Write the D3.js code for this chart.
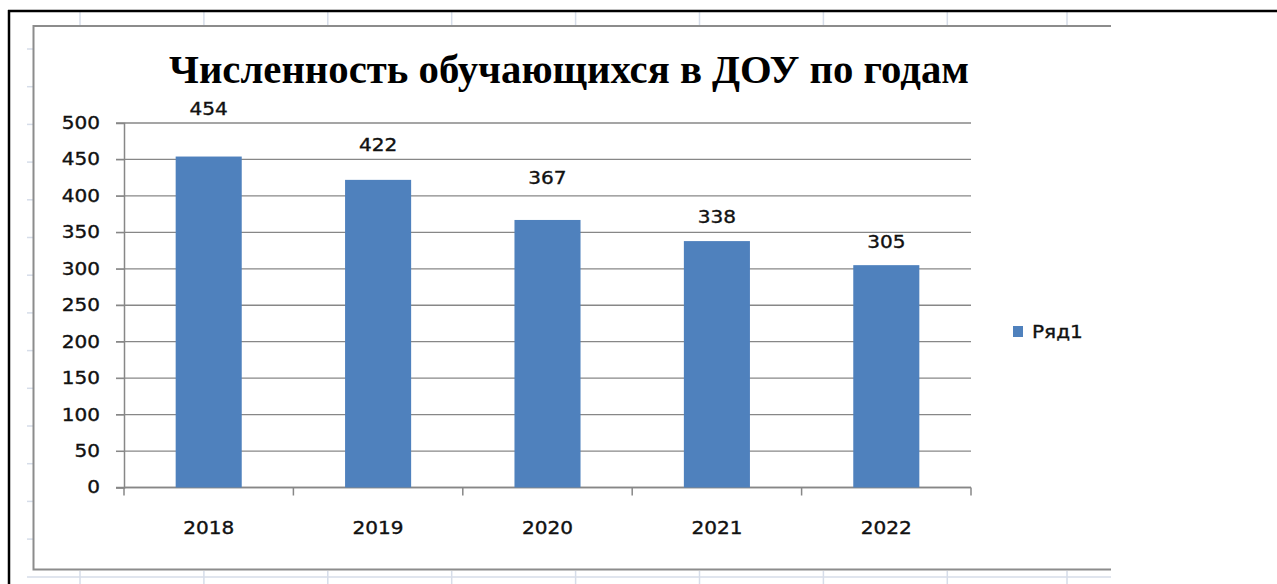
<!DOCTYPE html>
<html>
<head>
<meta charset="utf-8">
<script src="https://cdn.jsdelivr.net/npm/d3@7"></script>
<style>
  body { margin: 0; background: #fff; }
  svg { display: block; }
  .num { font-family: "DejaVu Sans", sans-serif; font-size: 17px; fill: #111; stroke: #111; stroke-width: 0.35px; }
</style>
</head>
<body>
<div id="chart"></div>
<script>
// data
const years = ['2018', '2019', '2020', '2021', '2022'];
const pupils = [454, 422, 367, 338, 305];
const yTicks = [0, 50, 100, 150, 200, 250, 300, 350, 400, 450, 500];
const seriesName = 'Ряд1';
const titleText = 'Численность обучающихся в ДОУ по годам';
// label offsets above bars (px), placed by hand in the original
const labelLift = [48, 35, 42, 24, 23];

const W = 1277, H = 584;
const plot = { left: 124, right: 971, top: 123, bottom: 487.5 };
const stretch = 1.18; // the original text is drawn a bit wide

const svg = d3.select('#chart').append('svg')
  .attr('width', W)
  .attr('height', H);

// spreadsheet grid peeking around the chart
const sheet = svg.append('g').attr('stroke', '#d6dde9').attr('stroke-width', 1.5);
const colX = d3.range(8).map(i => 80 + i * 123.9).concat([1067]);
colX.forEach(x => {
  sheet.append('line').attr('x1', x).attr('x2', x).attr('y1', 12).attr('y2', 25);
  sheet.append('line').attr('x1', x).attr('x2', x).attr('y1', 571).attr('y2', 584);
});
d3.range(14).map(i => 49 + i * 37.7).forEach(y => {
  sheet.append('line').attr('x1', 27).attr('x2', 33).attr('y1', y).attr('y2', y);
});
sheet.append('line').attr('x1', 27).attr('x2', 1111).attr('y1', 577).attr('y2', 577);

// black frame (top and left)
svg.append('line').attr('x1', 8).attr('x2', W).attr('y1', 11).attr('y2', 11)
  .attr('stroke', '#000').attr('stroke-width', 2.5);
svg.append('line').attr('x1', 9).attr('x2', 9).attr('y1', 10).attr('y2', H)
  .attr('stroke', '#000').attr('stroke-width', 2.5);

// chart area border (cut off at the right)
svg.append('path')
  .attr('d', 'M1111,26 H33.5 V569.5 H1111')
  .attr('fill', 'none')
  .attr('stroke', '#8c8c8c')
  .attr('stroke-width', 2);

// scales
const x = d3.scaleBand()
  .domain(years)
  .range([plot.left, plot.right])
  .paddingInner(0.61)
  .paddingOuter(0.305);

const y = d3.scaleLinear()
  .domain([0, 500])
  .range([plot.bottom, plot.top]);

// gridlines
svg.append('g')
  .selectAll('line')
  .data(yTicks)
  .join('line')
  .attr('x1', plot.left - 8)
  .attr('x2', plot.right)
  .attr('y1', d => y(d))
  .attr('y2', d => y(d))
  .attr('stroke', '#878787')
  .attr('stroke-width', 1.3);

// y axis
const yAxis = svg.append('g')
  .attr('transform', `translate(${plot.left},0)`)
  .call(d3.axisLeft(y).tickValues(yTicks).tickSize(8).tickPadding(17));
yAxis.select('.domain').attr('stroke', '#878787').attr('stroke-width', 1.5);
yAxis.selectAll('.tick line').attr('stroke', '#878787');
yAxis.selectAll('.tick text')
  .attr('class', 'num')
  .attr('font-size', null)
  .attr('font-family', null)
  .attr('fill', null)
  .attr('transform', `scale(${stretch},1)`)
  .attr('x', -24 / stretch);

// x axis: ticks at category boundaries
const bounds = years.map(d => x(d) - x.step() * x.paddingInner() / 2).concat([plot.right]);
svg.append('line')
  .attr('x1', plot.left).attr('x2', plot.right)
  .attr('y1', plot.bottom).attr('y2', plot.bottom)
  .attr('stroke', '#878787').attr('stroke-width', 1.5);
svg.append('g')
  .selectAll('line')
  .data(bounds)
  .join('line')
  .attr('x1', d => d).attr('x2', d => d)
  .attr('y1', plot.bottom).attr('y2', plot.bottom + 8)
  .attr('stroke', '#878787').attr('stroke-width', 1.5);

svg.append('g')
  .selectAll('text')
  .data(years)
  .join('text')
  .attr('class', 'num')
  .attr('text-anchor', 'middle')
  .attr('transform', d => `translate(${x(d) + x.bandwidth() / 2},534) scale(${stretch},1)`)
  .text(d => d);

// bars
svg.append('g')
  .selectAll('rect')
  .data(pupils)
  .join('rect')
  .attr('x', (d, i) => x(years[i]))
  .attr('width', x.bandwidth())
  .attr('y', d => y(d))
  .attr('height', d => y(0) - y(d))
  .attr('fill', '#4f81bd');

// value labels
svg.append('g')
  .selectAll('text')
  .data(pupils)
  .join('text')
  .attr('class', 'num')
  .attr('text-anchor', 'middle')
  .attr('transform', (d, i) =>
    `translate(${x(years[i]) + x.bandwidth() / 2},${y(d) - labelLift[i] + 6}) scale(${stretch},1)`)
  .text(d => d);

// title
svg.append('text')
  .attr('x', 569)
  .attr('y', 83)
  .attr('text-anchor', 'middle')
  .attr('font-family', '"Liberation Serif", "Times New Roman", serif')
  .attr('font-weight', 'bold')
  .attr('font-size', 40)
  .attr('textLength', 800)
  .attr('lengthAdjust', 'spacingAndGlyphs')
  .text(titleText);

// legend
const legend = svg.append('g').attr('transform', 'translate(1013,326)');
legend.append('rect')
  .attr('width', 10).attr('height', 11)
  .attr('fill', '#4f81bd');
legend.append('text')
  .attr('class', 'num')
  .attr('transform', `translate(19,12) scale(${stretch},1)`)
  .text(seriesName);
</script>
</body>
</html>
